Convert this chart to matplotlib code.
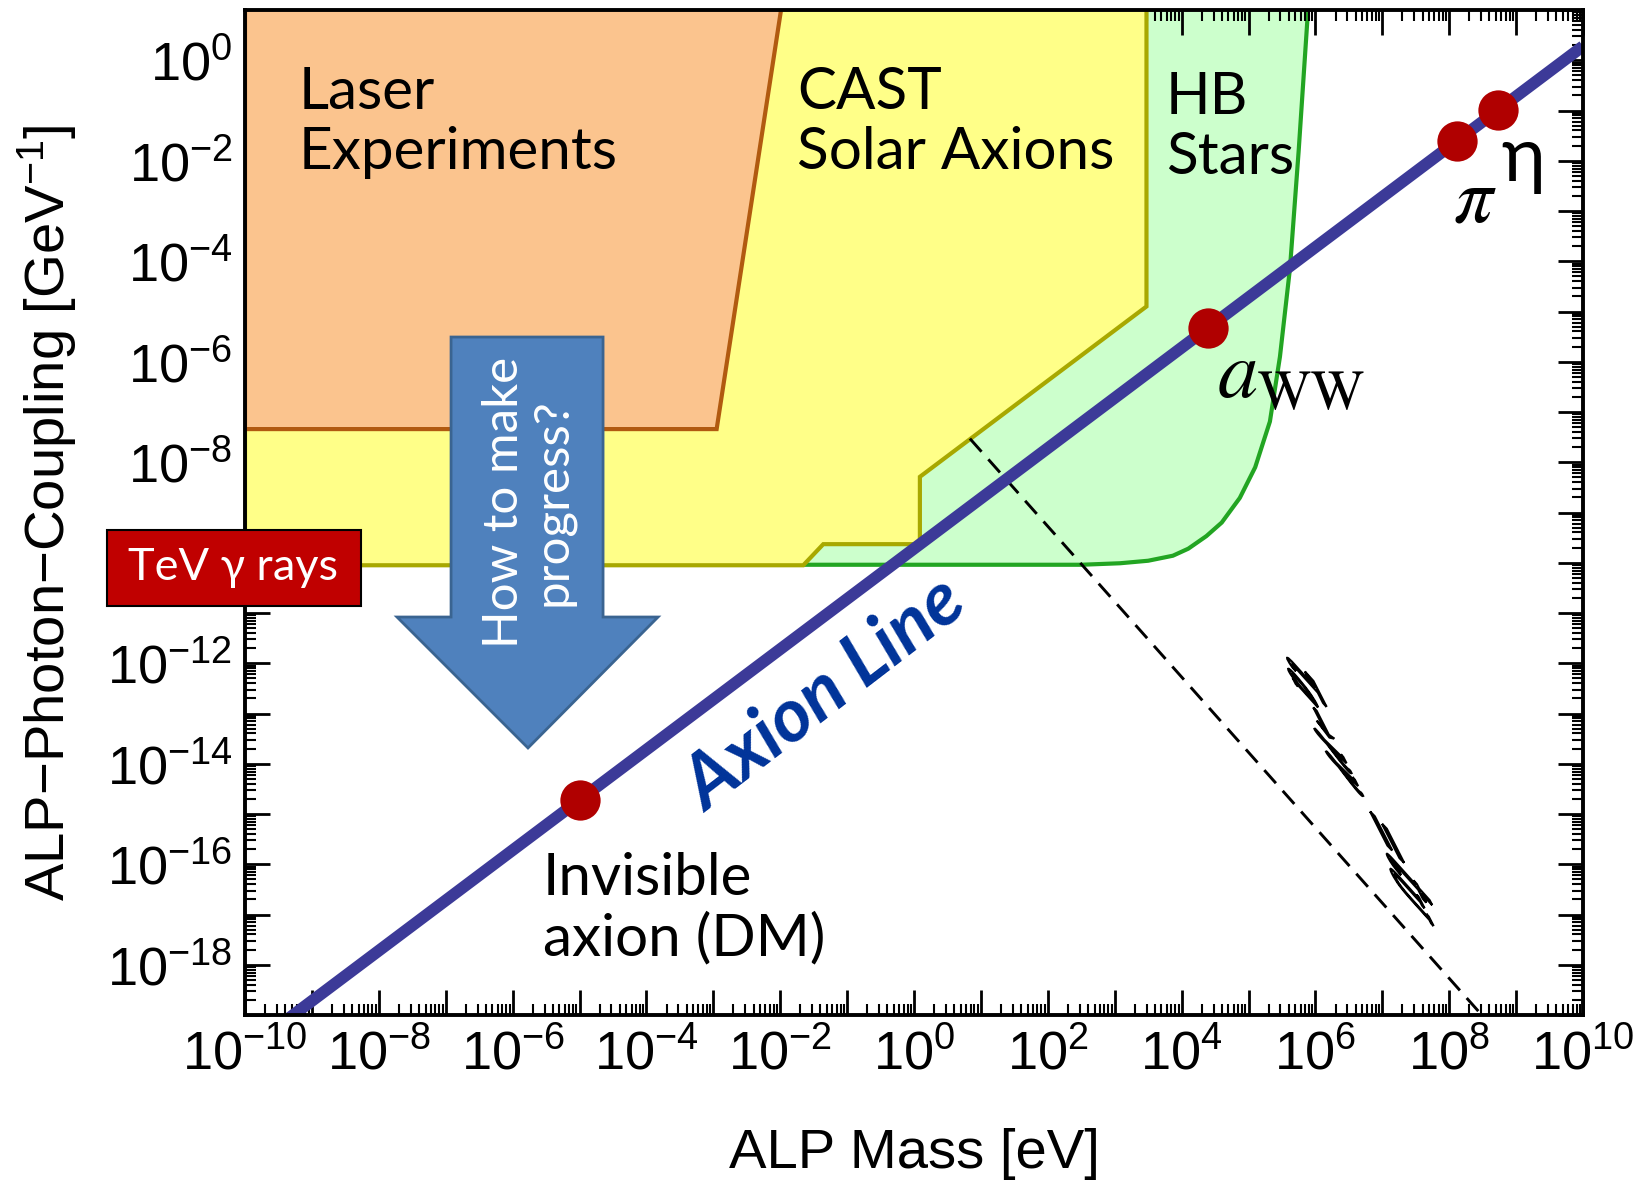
import numpy as np
import matplotlib
matplotlib.use("Agg")
import matplotlib.pyplot as plt
from matplotlib.patches import Polygon, PathPatch, Rectangle
from matplotlib.textpath import TextPath
from matplotlib.font_manager import FontProperties
from matplotlib.transforms import Affine2D
from matplotlib.ticker import FixedLocator, FuncFormatter, NullFormatter

plt.rcParams['font.family'] = ['Liberation Sans', 'DejaVu Sans']
plt.rcParams['mathtext.fontset'] = 'custom'
plt.rcParams['mathtext.rm'] = 'Liberation Sans'
plt.rcParams['mathtext.it'] = 'Liberation Sans:italic'
plt.rcParams['mathtext.default'] = 'regular'

# bounds in log10(mass / eV) and log10(g / GeV^-1)
laser_logm = [-10.0, -2.95, -1.93, -10.0]
laser_logg = [-7.34, -7.34, 1.5, 1.5]

cast_logm = [-10.0, -1.655, -1.356, 0.088, 0.088, 3.475, 3.475, -10.0]
cast_logg = [-10.05, -10.05, -9.63, -9.63, -8.29, -4.90, 1.5, 1.5]

hb_logm = [-10.0, 2.5, 3.08, 3.5, 3.87, 4.1, 4.37, 4.6, 4.87, 5.1, 5.32,
           5.47, 5.62, 5.75, 5.89, 5.93, -10.0]
hb_logg = [-10.04, -10.04, -10.01, -9.96, -9.86, -9.72, -9.47, -9.2, -8.71,
           -8.1, -7.19, -5.9, -4.14, -1.8, 1.0, 1.5, 1.5]

# axion line endpoints
axion_logm = [-10.0, 10.0]
axion_logg = [-19.72, 0.28]

# lifetime line (dashed)
tau_logm = [0.836, 8.5]
tau_logg = [-7.53, -19.02]

# benchmark points on the axion line
point_names = ['invisible axion', 'aWW', 'pi', 'eta']
point_logm = [-5.0, 4.40, 8.11, 8.73]
point_logg = [-14.72, -5.32, -1.61, -0.99]

xdecades = list(range(-10, 11))
ydecades = list(range(-19, 2))

LABEL_FONT = ['Lato', 'DejaVu Sans']

fig = plt.figure(figsize=(16.45, 11.82), dpi=100)
ax = fig.add_axes([245 / 1645, 1 - 1015 / 1182, 1338 / 1645, 1005 / 1182])
ax.set_xscale('log')
ax.set_yscale('log')
ax.set_xlim(1e-10, 1e10)
ax.set_ylim(1e-19, 1e1)


def pts(lx, ly):
    return np.column_stack([np.power(10.0, lx), np.power(10.0, ly)])


ax.add_patch(Polygon(pts(hb_logm, hb_logg), closed=True, fc='#ccffcc',
                     ec='#22a522', lw=3, zorder=1))
ax.add_patch(Polygon(pts(cast_logm, cast_logg), closed=True, fc='#ffff88',
                     ec='#a8a800', lw=3, zorder=2))
ax.add_patch(Polygon(pts(laser_logm, laser_logg), closed=True, fc='#fbc48e',
                     ec='#b15a10', lw=3, zorder=3))

ax.plot(np.power(10.0, tau_logm), np.power(10.0, tau_logg), color='black',
        lw=2.1, ls=(0, (6, 3.5)), zorder=4)
ax.plot(np.power(10.0, axion_logm), np.power(10.0, axion_logg),
        color='#3c3a98', lw=8.5, solid_capstyle='butt', zorder=5)
ax.plot(np.power(10.0, point_logm), np.power(10.0, point_logg), 'o',
        color='#b00000', ms=29, mec='none', zorder=6)

# arrow (axes fraction)
arrow_pts = [(0.154, 0.6746), (0.2676, 0.6746), (0.2676, 0.396), (0.3087, 0.396),
             (0.2115, 0.2657), (0.1136, 0.396), (0.154, 0.396)]
ax.add_patch(Polygon(arrow_pts, closed=True, fc='#4f81bd', ec='#3a6491',
                     lw=2, transform=ax.transAxes, zorder=8))
ax.text(0.2115, 0.51, 'How to make\nprogress?', transform=ax.transAxes,
        rotation=90, ha='center', va='center', multialignment='center',
        color='white', fontsize=35.5, family=LABEL_FONT, linespacing=1.1,
        zorder=9)

# region labels
region_kw = dict(transform=ax.transAxes, ha='left', va='center', fontsize=42,
                 family=LABEL_FONT, linespacing=1.15, zorder=9)
ax.text(0.0404, 0.888, 'Laser\nExperiments', **region_kw)
ax.text(0.4126, 0.888, 'CAST\nSolar Axions', **region_kw)
ax.text(0.6883, 0.883, 'HB\nStars', **region_kw)
ax.text(0.2227, 0.106, 'Invisible\naxion (DM)', **region_kw)

ax.text(0.7261, 0.6139, r'$\mathit{a}_{\mathrm{WW}}$', transform=ax.transAxes,
        ha='left', va='baseline', fontsize=58, math_fontfamily='stix', zorder=9)
ax.text(0.903, 0.7900, r'$\mathit{\pi}$', transform=ax.transAxes,
        ha='left', va='baseline', fontsize=56, math_fontfamily='stix', zorder=9)
ax.text(0.939, 0.8300, 'η', transform=ax.transAxes,
        ha='left', va='baseline', fontsize=54, family=LABEL_FONT, zorder=9)

ax.text(10 ** -1.33, 10 ** -12.62, 'Axion Line', ha='center', va='center',
        rotation=37.5, rotation_mode='anchor', fontsize=54, color='#003399',
        family=LABEL_FONT, fontweight='bold', fontstyle='italic', zorder=9)

# slanted label along the dashed line
fp = FontProperties(family='DejaVu Serif', style='italic', math_fontfamily='stix')
tp = TextPath((0, 0), r'$\tau_{a\to\gamma\gamma} = t_U$', size=40, prop=fp)
bb = tp.get_extents()
u = np.deg2rad(-63.0)
v = np.deg2rad(-46.0)
su = 288.0 / bb.width
sv = 85.0 / bb.height
shear = np.array([[su * np.cos(u), sv * np.cos(v), 0.0],
                  [su * np.sin(u), sv * np.sin(v), 0.0],
                  [0.0, 0.0, 1.0]])
px, py = ax.transData.transform((10 ** 6.64, 10 ** -14.47))
tr = (Affine2D().translate(-(bb.x0 + bb.x1) / 2, -(bb.y0 + bb.y1) / 2)
      + Affine2D(shear) + Affine2D().translate(px, py))
ax.add_patch(PathPatch(tp, transform=tr, fc='white', ec='black', lw=1.6,
                       zorder=9))


# ticks: every decade marked, even decades labelled
def dec_label(val, pos):
    e = int(round(np.log10(val)))
    return r'$10^{%d}$' % e if e % 2 == 0 else ''


def ydec_label(val, pos):
    # 10^-10 sits under the TeV box
    e = int(round(np.log10(val)))
    return '' if e == -10 else dec_label(val, pos)


minors_x = [k * 10.0 ** d for d in xdecades[:-1] for k in range(2, 10)]
minors_y = [k * 10.0 ** d for d in ydecades[:-1] for k in range(2, 10)]
ax.xaxis.set_major_locator(FixedLocator([10.0 ** d for d in xdecades]))
ax.yaxis.set_major_locator(FixedLocator([10.0 ** d for d in ydecades]))
ax.xaxis.set_minor_locator(FixedLocator(minors_x))
ax.yaxis.set_minor_locator(FixedLocator(minors_y))
ax.xaxis.set_major_formatter(FuncFormatter(dec_label))
ax.yaxis.set_major_formatter(FuncFormatter(ydec_label))
ax.xaxis.set_minor_formatter(NullFormatter())
ax.yaxis.set_minor_formatter(NullFormatter())
ax.tick_params(which='both', direction='in', top=True, right=True, zorder=10)
ax.tick_params(which='major', length=18, width=2.0, labelsize=39)
ax.tick_params(which='minor', length=8, width=1.5)
ax.tick_params(axis='x', which='major', pad=10)
ax.tick_params(axis='y', which='major', pad=9)
for s in ax.spines.values():
    s.set_linewidth(2.8)
    s.set_zorder(10)

ax.set_xlabel('ALP Mass [eV]', fontsize=40.5)
ax.set_ylabel('ALP\u2212Photon\u2212Coupling [GeV$^{-1}$]', fontsize=40.5)
ax.xaxis.label.set_va('center')
ax.yaxis.label.set_va('center')
ax.xaxis.set_label_coords(0.5, -0.1383)
ax.yaxis.set_label_coords(-0.148, 0.5)

# TeV gamma-ray box sits over the y axis
fig.add_artist(Rectangle((107 / 1645, 1 - 606 / 1182), 254 / 1645, 76 / 1182,
                         transform=fig.transFigure, fc='#c00000', ec='black',
                         lw=1.5, zorder=5))
fig.text(233.5 / 1645, 1 - 568 / 1182, 'TeV γ rays', ha='center', va='center',
         color='white', fontsize=32.5, family=LABEL_FONT, zorder=6)

fig.savefig('out.png', dpi=100)
